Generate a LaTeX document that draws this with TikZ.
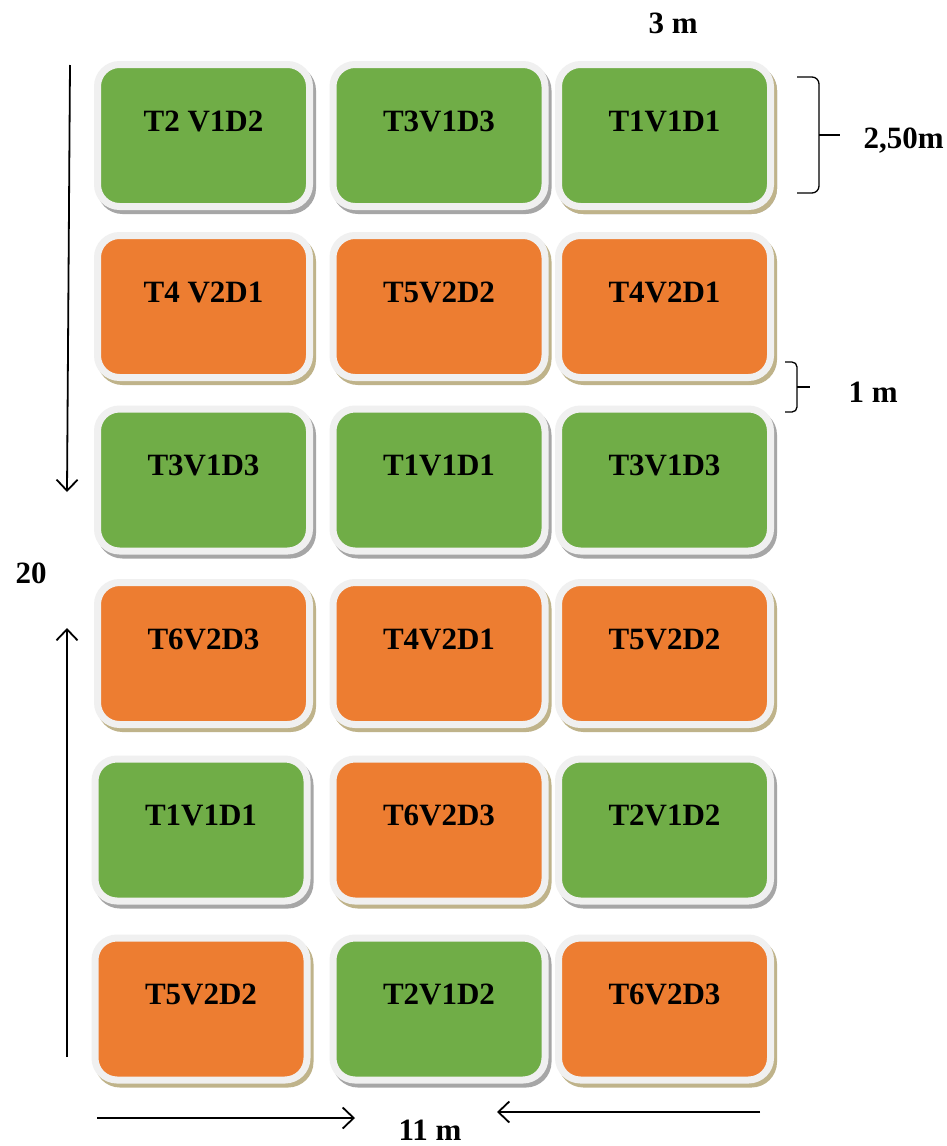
\documentclass[tikz,border=0pt]{standalone}
\usepackage{fontspec}
\setmainfont{Liberation Serif}
\usetikzlibrary{shadows,arrows.meta}
\definecolor{plotgreen}{HTML}{70AD47}
\definecolor{plotorange}{HTML}{ED7D31}
\definecolor{tileframe}{HTML}{F0F0F0}
\definecolor{tanshade}{HTML}{BFB38A}
\definecolor{grayshade}{HTML}{A6A6A6}

\begin{document}
\begin{tikzpicture}[x=1pt,y=-1pt]
\tikzset{
  every node/.style={font=\fontsize{31}{31}\selectfont\bfseries},
  tile/.style={draw=tileframe, line width=7pt, rounded corners=22pt,
    minimum width=212pt, minimum height=142pt, inner sep=0pt,
    text height=21pt, text depth=30pt},
  grayshadow/.style={drop shadow={shadow xshift=3pt, shadow yshift=-4pt,
    fill=grayshade, draw=grayshade, line width=7pt, opacity=1}},
  tanshadow/.style={drop shadow={shadow xshift=3pt, shadow yshift=-4pt,
    fill=tanshade, draw=tanshade, line width=7pt, opacity=1}},
  greentile/.style={tile, fill=plotgreen, grayshadow},
  orangetile/.style={tile, fill=plotorange, tanshadow},
  dimarrow/.style={line width=1.8pt, -{Straight Barb[length=11pt,width=21pt]}},
  dimbrace/.style={line width=1.3pt, rounded corners=#1}
}
    \fill[white] (0,0) rectangle (947,1146);
    \useasboundingbox (0,0) rectangle (947,1146);

    % plots, row by row
    \node[greentile] (p11) at (203.5,135.5) {T2 V1D2};
    \node[greentile] (p12) at (439,135.5) {T3V1D3};
    \node[greentile, tanshadow] (p13) at (664.5,135.5) {T1V1D1};

    \node[orangetile] (p21) at (203.5,306.5) {T4 V2D1};
    \node[orangetile] (p22) at (439,306.5) {T5V2D2};
    \node[orangetile] (p23) at (664.5,306.5) {T4V2D1};

    \node[greentile] (p31) at (203.5,480) {T3V1D3};
    \node[greentile] (p32) at (439,480) {T1V1D1};
    \node[greentile] (p33) at (664.5,480) {T3V1D3};

    \node[orangetile] (p41) at (203.5,653.5) {T6V2D3};
    \node[orangetile] (p42) at (439,653.5) {T4V2D1};
    \node[orangetile] (p43) at (664.5,653.5) {T5V2D2};

    \node[greentile] (p51) at (201,830) {T1V1D1};
    \node[orangetile] (p52) at (439,830) {T6V2D3};
    \node[greentile] (p53) at (664.5,830) {T2V1D2};

    \node[orangetile] (p61) at (201,1009) {T5V2D2};
    \node[greentile] (p62) at (439,1009) {T2V1D2};
    \node[orangetile] (p63) at (664.5,1009) {T6V2D3};

    % dimensions
    \node[anchor=base west] (wplot) at (645,33) {3 m};
    \node[anchor=base west] (hplot) at (860,148) {2,50m};
    \node[anchor=base west] (gap) at (845,402) {1 m};
    \node[anchor=base west] (hfield) at (12,583) {20};
    \node[anchor=base west] (wfield) at (395,1140) {11 m};

    \coordinate (braceA1) at (797,77);
    \coordinate (braceAm) at (819,135);
    \coordinate (braceAtip) at (840,135);
    \coordinate (braceA2) at (797,193);
    \draw[dimbrace=7pt] (braceA1) -| (braceAm) |- (braceA2);
    \draw[dimbrace=7pt] (braceAm) -- (braceAtip);

    \coordinate (braceB1) at (785,362);
    \coordinate (braceBm) at (797,387);
    \coordinate (braceBtip) at (810,387);
    \coordinate (braceB2) at (785,412);
    \draw[dimbrace=5pt] (braceB1) -| (braceBm) |- (braceB2);
    \draw[dimbrace=5pt] (braceBm) -- (braceBtip);

    \coordinate (downA) at (70,65);
    \coordinate (downB) at (67,492);
    \coordinate (upA) at (67,1057);
    \coordinate (upB) at (67,628);
    \coordinate (rightA) at (97,1118);
    \coordinate (rightB) at (355,1118);
    \coordinate (leftA) at (760,1112);
    \coordinate (leftB) at (497,1112);
    \draw[dimarrow] (downA) -- (downB);
    \draw[dimarrow] (upA) -- (upB);
    \draw[dimarrow] (rightA) -- (rightB);
    \draw[dimarrow] (leftA) -- (leftB);
\end{tikzpicture}
\end{document}
